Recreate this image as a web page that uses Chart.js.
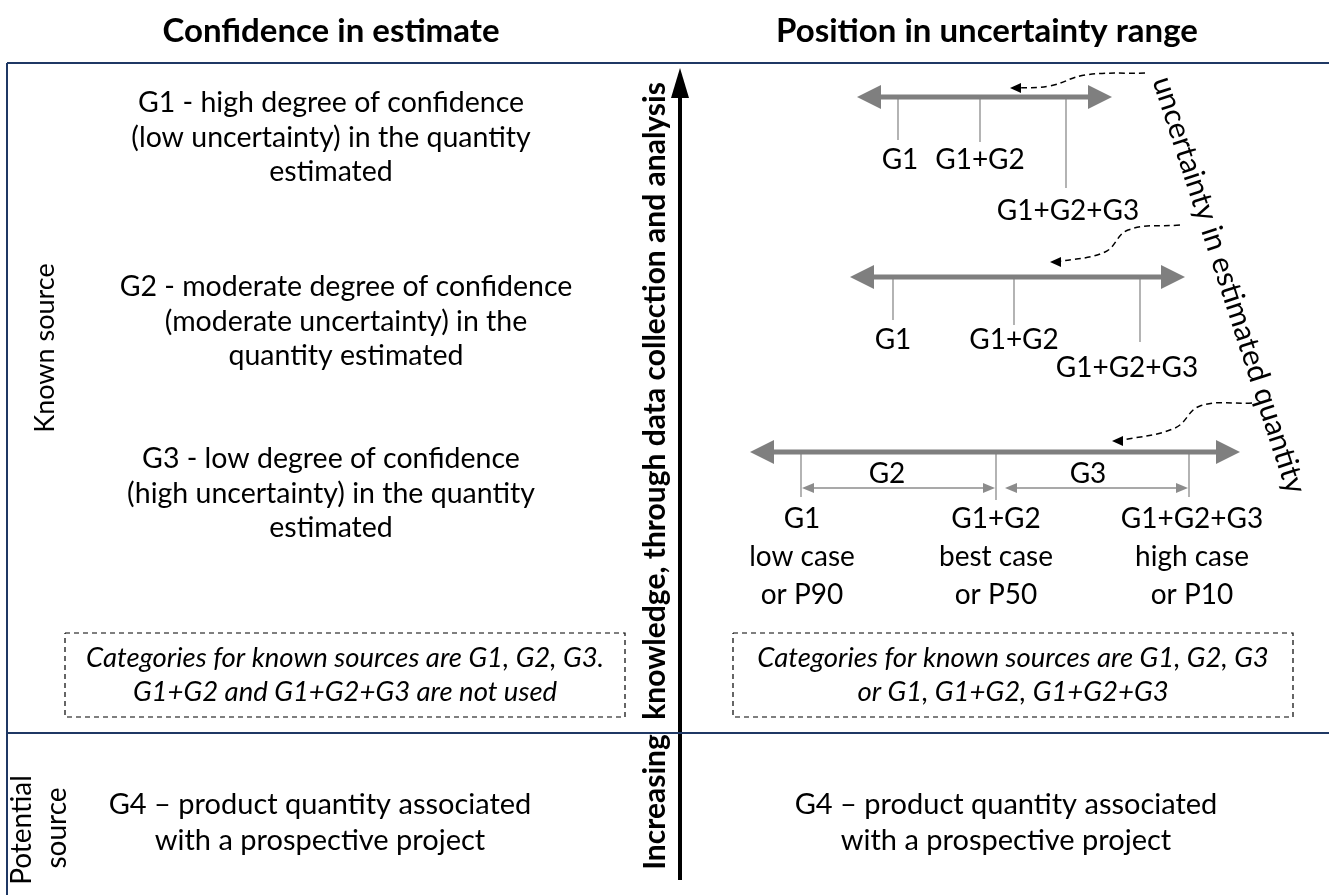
<!DOCTYPE html>
<html>
<head>
<meta charset="utf-8">
<script src="https://cdn.jsdelivr.net/npm/chart.js@4.4.0/dist/chart.umd.min.js"></script>
<style>
  html, body { margin: 0; padding: 0; background: #fff; }
  canvas { display: block; }
</style>
</head>
<body>
<canvas id="chart" width="1329" height="895"></canvas>
<script>
// figure units: 1 unit = 1 px of the original figure
const headerTitles = ['Confidence in estimate', 'Position in uncertainty range'];
const headerX = [331, 987];

const leftBlocks = [
    ['G1 - high degree of confidence', '(low uncertainty) in the quantity', 'estimated'],
    ['G2 - moderate degree of confidence', '(moderate uncertainty) in the', 'quantity estimated'],
    ['G3 - low degree of confidence', '(high uncertainty) in the quantity', 'estimated']
];
const leftBlockX = [331, 346, 331];
const leftBlockY = [103, 287, 459];

const boxNotes = [
    ['Categories for known sources are G1, G2, G3.', 'G1+G2 and G1+G2+G3 are not used'],
    ['Categories for known sources are G1, G2, G3', 'or G1, G1+G2, G1+G2+G3']
];
const boxLeft = [65, 733];
const boxRight = [625, 1293];
const boxTop = 633;
const boxBottom = 717;

const potentialText = ['G4 \u2013 product quantity associated', 'with a prospective project'];
const potentialX = [320, 1006];

// uncertainty ranges, one per row
const rangeLevel = [97, 277, 452];
const rangeLow = [857, 850, 750];
const rangeHigh = [1112, 1185, 1240];
const markerNames = ['G1', 'G1+G2', 'G1+G2+G3'];
const markerX = [[898, 980, 1066], [893, 1014, 1140], [801, 996, 1189]];
const markerEnd = [[140, 142, 188], [320, 325, 342], [497, 500, 497]];
const markerLabelX = [[900, 980, 1068], [893, 1014, 1127], [802, 996, 1192]];
const markerLabelY = [[160, 160, 211], [340, 340, 368], [519, 519, 519]];
const caseNames = ['low case', 'best case', 'high case'];
const caseP = ['or P90', 'or P50', 'or P10'];

const spanNames = ['G2', 'G3'];
const spanFrom = [801, 1004];
const spanTo = [996, 1189];
const spanLevel = 488;
const spanLabelX = [887, 1088];

// dashed pointers from the rotated label
const pointers = [
    [[1145, 73], [1085, 75], [1050, 86], [1010, 88]],
    [[1180, 225], [1128, 230], [1105, 252], [1050, 262]],
    [[1252, 403], [1200, 406], [1175, 428], [1112, 441]]
];

const navy = '#1f3864';
const grey = '#7f7f7f';

function line(points, color, width, extra) {
    return Object.assign({
        data: points.map(p => ({ x: p[0], y: p[1] })),
        showLine: true,
        borderColor: color,
        borderWidth: width,
        pointRadius: 0,
        fill: false,
        tension: 0,
        clip: false
    }, extra || {});
}

const datasets = [];

// frame
datasets.push(line([[7, 63], [1329, 63]], navy, 2));
datasets.push(line([[7, 63], [7, 895]], navy, 2));
datasets.push(line([[7, 733], [1329, 733]], navy, 2));

// knowledge arrow
datasets.push(line([[680, 880], [680, 90]], '#000', 4, {
    heads: [{ from: [680, 880], to: [680, 68], len: 30, w: 9, color: '#000' }]
}));

// ranges
rangeLevel.forEach((y, i) => {
    const lo = rangeLow[i], hi = rangeHigh[i];
    datasets.push(line([[lo + 14, y], [hi - 14, y]], grey, 5, {
        heads: [
            { from: [hi, y], to: [lo, y], len: 24, w: 12, color: grey },
            { from: [lo, y], to: [hi, y], len: 24, w: 12, color: grey }
        ]
    }));
    markerX[i].forEach((x, j) => {
        datasets.push(line([[x, y + 2], [x, markerEnd[i][j]]], '#8c8c8c', 1.3));
    });
});

// G2 / G3 spans
spanFrom.forEach((a, i) => {
    const b = spanTo[i];
    datasets.push(line([[a + 6, spanLevel], [b - 6, spanLevel]], '#8c8c8c', 1.3, {
        heads: [
            { from: [b, spanLevel], to: [a + 1, spanLevel], len: 12, w: 5, color: '#8c8c8c' },
            { from: [a, spanLevel], to: [b - 1, spanLevel], len: 12, w: 5, color: '#8c8c8c' }
        ]
    }));
});

// dashed pointers
pointers.forEach(p => {
    const n = p.length;
    datasets.push(line(p.slice(0, n - 1).concat([[p[n - 1][0] + 6, p[n - 1][1]]]), '#000', 1.5, {
        borderDash: [6, 4],
        tension: 0.4,
        heads: [{ from: p[n - 2], to: p[n - 1], len: 11, w: 5, color: '#000', flat: true }]
    }));
});

// dashed note boxes
boxLeft.forEach((l, i) => {
    const r = boxRight[i];
    datasets.push(line([[l, boxTop], [r, boxTop], [r, boxBottom], [l, boxBottom], [l, boxTop]], '#000', 1.2, {
        borderDash: [5, 4]
    }));
});

const arrowHeads = {
    id: 'arrowHeads',
    afterDatasetsDraw(chart) {
        const ctx = chart.ctx, xs = chart.scales.x, ys = chart.scales.y;
        chart.data.datasets.forEach(ds => {
            (ds.heads || []).forEach(h => {
                let fx = xs.getPixelForValue(h.from[0]), fy = ys.getPixelForValue(h.from[1]);
                const tx = xs.getPixelForValue(h.to[0]), ty = ys.getPixelForValue(h.to[1]);
                if (h.flat) fy = ty;
                const ang = Math.atan2(ty - fy, tx - fx);
                ctx.save();
                ctx.translate(tx, ty);
                ctx.rotate(ang);
                ctx.fillStyle = h.color;
                ctx.beginPath();
                ctx.moveTo(0, 0);
                ctx.lineTo(-h.len, -h.w);
                ctx.lineTo(-h.len, h.w);
                ctx.closePath();
                ctx.fill();
                ctx.restore();
            });
        });
    }
};

const diagramText = {
    id: 'diagramText',
    afterDatasetsDraw(chart) {
        const ctx = chart.ctx, xs = chart.scales.x, ys = chart.scales.y;
        const px = v => xs.getPixelForValue(v), py = v => ys.getPixelForValue(v);
        const put = (t, x, y, font, rot) => {
            ctx.save();
            ctx.font = font;
            ctx.fillStyle = '#000';
            ctx.textAlign = 'center';
            ctx.textBaseline = 'middle';
            ctx.translate(px(x), py(y));
            if (rot) ctx.rotate(rot);
            ctx.fillText(t, 0, 0);
            ctx.restore();
        };
        const body = '28.5px Lato';
        const label = '28px Lato';

        headerTitles.forEach((t, i) => put(t, headerX[i], 31, 'bold 33px Lato'));

        leftBlocks.forEach((lines, i) => {
            lines.forEach((t, j) => put(t, leftBlockX[i], leftBlockY[i] + j * 34.5, body));
        });

        boxNotes.forEach((lines, i) => {
            const cx = (boxLeft[i] + boxRight[i]) / 2;
            lines.forEach((t, j) => put(t, cx, 658 + j * 34, 'italic 27.5px Lato'));
        });

        potentialX.forEach(x => {
            potentialText.forEach((t, j) => put(t, x, 805 + j * 36, '29px Lato'));
        });

        rangeLevel.forEach((y, i) => {
            markerNames.forEach((n, j) => put(n, markerLabelX[i][j], markerLabelY[i][j], label));
        });
        caseNames.forEach((n, j) => put(n, markerLabelX[2][j], 557, label));
        caseP.forEach((n, j) => put(n, markerLabelX[2][j], 595, label));
        spanNames.forEach((n, i) => put(n, spanLabelX[i], 474, label));

        put('Known source', 45, 348, '27px Lato', -Math.PI / 2);
        put('Potential', 22, 830, '28px Lato', -Math.PI / 2);
        put('source', 57, 828, '28px Lato', -Math.PI / 2);
        put('Increasing  knowledge, through data collection and analysis', 655, 476, 'bold 30px Lato', -Math.PI / 2);
        put('uncertainty in estimated quantity', 1229, 285, '30px Lato', 72 * Math.PI / 180);
    }
};

const ctx = document.getElementById('chart').getContext('2d');
new Chart(ctx, {
    type: 'scatter',
    data: { datasets: datasets },
    options: {
        responsive: false,
        animation: false,
        events: [],
        layout: { padding: 0 },
        plugins: {
            legend: { display: false },
            tooltip: { enabled: false }
        },
        scales: {
            x: { type: 'linear', min: 0, max: 1329, display: false },
            y: { type: 'linear', min: 0, max: 895, reverse: true, display: false }
        }
    },
    plugins: [arrowHeads, diagramText]
});
</script>
</body>
</html>
